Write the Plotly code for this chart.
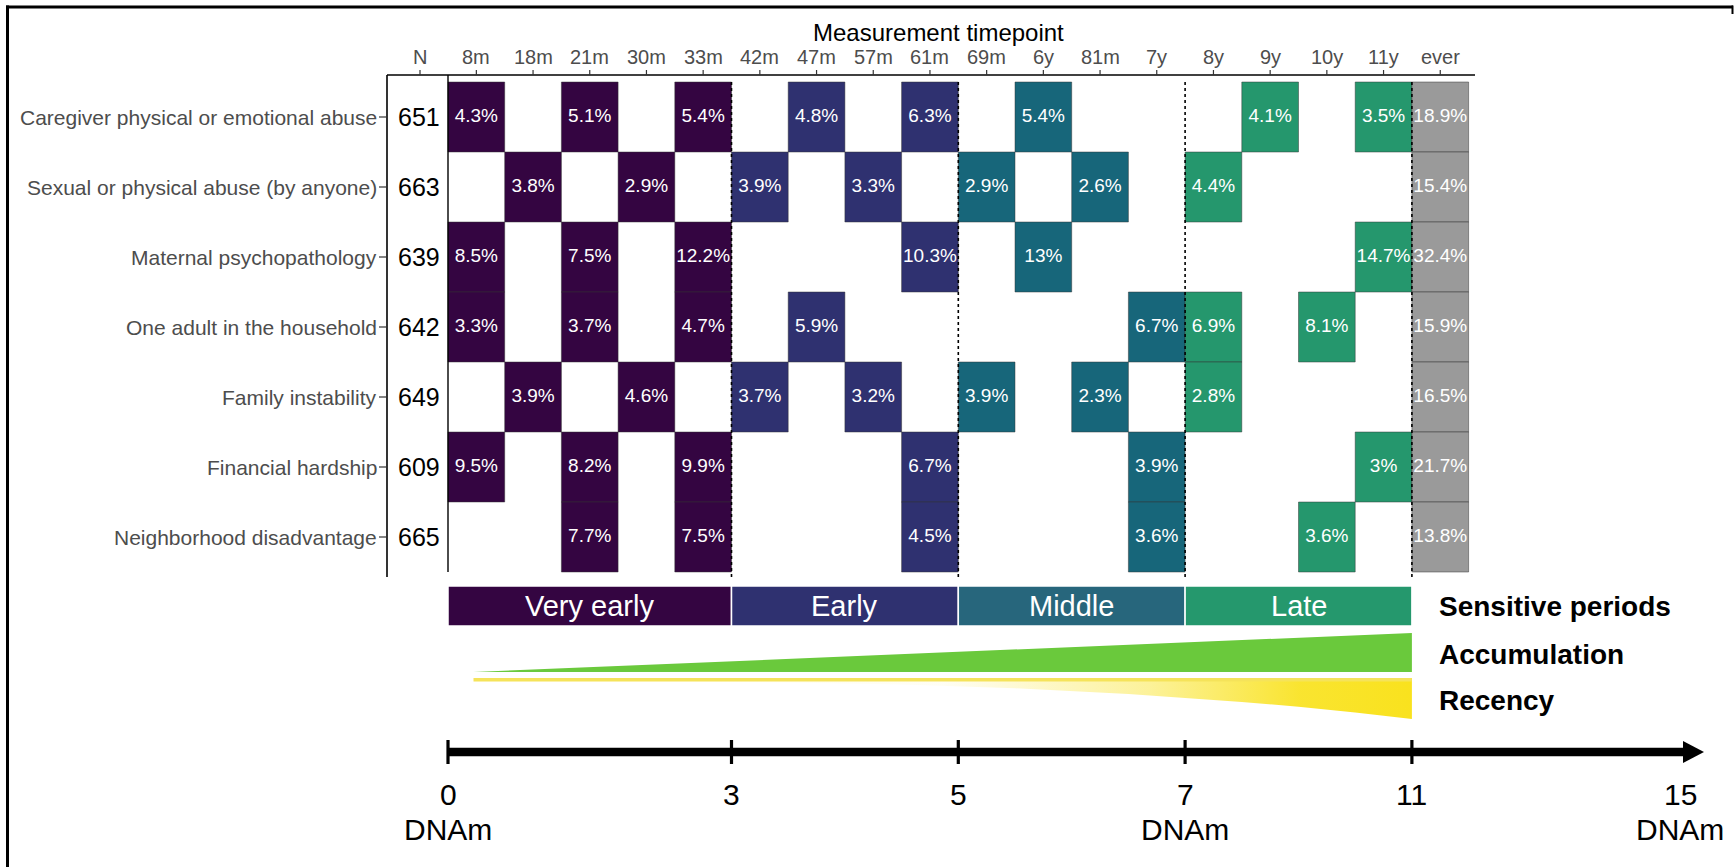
import plotly.graph_objects as go

# ---------------- data ----------------
timepoints = ["8m", "18m", "21m", "30m", "33m", "42m", "47m", "57m", "61m",
              "69m", "6y", "81m", "7y", "8y", "9y", "10y", "11y", "ever"]
period_of_tp = (["Very early"] * 5 + ["Early"] * 4 + ["Middle"] * 4 +
                ["Late"] * 4 + ["Ever"])
adversities = ["Caregiver physical or emotional abuse",
               "Sexual or physical abuse (by anyone)",
               "Maternal psychopathology",
               "One adult in the household",
               "Family instability",
               "Financial hardship",
               "Neighborhood disadvantage"]
n_values = [651, 663, 639, 642, 649, 609, 665]

caregiver_abuse = [4.3, None, 5.1, None, 5.4, None, 4.8, None, 6.3, None, 5.4, None, None, None, 4.1, None, 3.5, 18.9]
sexual_physical = [None, 3.8, None, 2.9, None, 3.9, None, 3.3, None, 2.9, None, 2.6, None, 4.4, None, None, None, 15.4]
maternal_psych = [8.5, None, 7.5, None, 12.2, None, None, None, 10.3, None, 13, None, None, None, None, None, 14.7, 32.4]
one_adult = [3.3, None, 3.7, None, 4.7, None, 5.9, None, None, None, None, None, 6.7, 6.9, None, 8.1, None, 15.9]
family_instab = [None, 3.9, None, 4.6, None, 3.7, None, 3.2, None, 3.9, None, 2.3, None, 2.8, None, None, None, 16.5]
financial = [9.5, None, 8.2, None, 9.9, None, None, None, 6.7, None, None, None, 3.9, None, None, None, 3, 21.7]
neighborhood = [None, None, 7.7, None, 7.5, None, None, None, 4.5, None, None, None, 3.6, None, None, 3.6, None, 13.8]
rows = [caregiver_abuse, sexual_physical, maternal_psych, one_adult,
        family_instab, financial, neighborhood]

period_names = ["Very early", "Early", "Middle", "Late"]
period_first_col = [0, 5, 9, 13]
period_last_col = [4, 8, 12, 16]

timeline_ages = ["0", "3", "5", "7", "11", "15"]
timeline_cols = [0, 5, 9, 13, 17, 21.73]
dnam_ages = ["0", "7", "15"]

# schematic shapes (column units / depth in px)
recency_cols = [0.45, 4, 6, 8, 10, 12, 14, 15, 16, 17]
recency_depth = [3.5, 3.5, 4.4, 6.6, 10.3, 15.9, 23.9, 28.8, 34.5, 41]

# ---------------- layout helpers ----------------
FONT = "Liberation Sans, Arial, Helvetica, sans-serif"
W, H = 1734, 867
X0_PX, COL_PX = 448.0, 56.7
Y0_PX, ROW_PX = 82.0, 70.0


def u(px):
    return (px - X0_PX) / COL_PX


def v(py):
    return (py - Y0_PX) / ROW_PX


cell_colors = {"Very early": "#340541", "Early": "#2f3170", "Middle": "#17667a",
               "Late": "#25976d", "Ever": "#9a9a9a"}
bar_colors = {"Very early": "#340541", "Early": "#2f3170", "Middle": "#27667c",
              "Late": "#25986d"}

fig = go.Figure()
shapes = []
annotations = []

# heatmap cells
tx, ty, tt = [], [], []
for r, row in enumerate(rows):
    for c, val in enumerate(row):
        if val is None:
            continue
        per = period_of_tp[c]
        shapes.append(dict(type="rect", xref="x", yref="y", x0=c, x1=c + 1,
                           y0=r, y1=r + 1, fillcolor=cell_colors[per],
                           line=dict(color="rgba(50,50,50,0.6)", width=0.8),
                           layer="below"))
        tx.append(c + 0.5)
        ty.append(r + 0.5)
        tt.append(f"{val:g}%")

fig.add_trace(go.Scatter(x=tx, y=ty, text=tt, mode="text",
                         textfont=dict(family=FONT, size=19, color="white"),
                         hoverinfo="skip"))

n_rows = len(rows)
n_cols = len(timepoints)

# panel lines
top_v = v(75)
bot_v = v(577)
shapes.append(dict(type="line", xref="x", yref="y", x0=u(387), x1=u(1475),
                   y0=top_v, y1=top_v, line=dict(color="black", width=1.6)))
shapes.append(dict(type="line", xref="x", yref="y", x0=u(387), x1=u(387),
                   y0=top_v, y1=bot_v, line=dict(color="black", width=1.6)))
shapes.append(dict(type="line", xref="x", yref="y", x0=0, x1=0,
                   y0=top_v, y1=n_rows, line=dict(color="black", width=1.4)))
for b in [5, 9, 13, 17]:
    shapes.append(dict(type="line", xref="x", yref="y", x0=b, x1=b,
                       y0=0, y1=bot_v, line=dict(color="black", width=1.6, dash="dot")))

# top ticks and labels
n_col_x = u(420)
tick_xs = [n_col_x] + [c + 0.5 for c in range(n_cols)]
tick_labels = ["N"] + timepoints
for x, lab in zip(tick_xs, tick_labels):
    shapes.append(dict(type="line", xref="x", yref="y", x0=x, x1=x,
                       y0=top_v, y1=v(70), line=dict(color="#333333", width=1.2)))
    annotations.append(dict(x=x, y=v(57), xref="x", yref="y", text=lab,
                            showarrow=False, xanchor="center", yanchor="middle",
                            font=dict(family=FONT, size=20, color="#4d4d4d")))
annotations.append(dict(x=u(938), y=v(32), xref="x", yref="y",
                        text="Measurement timepoint", showarrow=False,
                        xanchor="center", yanchor="middle",
                        font=dict(family=FONT, size=24, color="black")))

# row labels, left ticks and N values
for r, (name, n) in enumerate(zip(adversities, n_values)):
    yc = r + 0.5
    shapes.append(dict(type="line", xref="x", yref="y", x0=u(379), x1=u(387),
                       y0=yc, y1=yc, line=dict(color="#333333", width=1.2)))
    annotations.append(dict(x=u(379), y=yc, xref="x", yref="y", text=name,
                            showarrow=False, xanchor="right", yanchor="middle",
                            font=dict(family=FONT, size=21, color="#4d4d4d")))
    annotations.append(dict(x=u(419), y=yc, xref="x", yref="y", text=str(n),
                            showarrow=False, xanchor="center", yanchor="middle",
                            font=dict(family=FONT, size=25, color="black")))

# sensitive period bars
bar_y0, bar_y1 = v(586), v(626)
for name, c0, c1 in zip(period_names, period_first_col, period_last_col):
    shapes.append(dict(type="rect", xref="x", yref="y", x0=c0, x1=c1 + 1,
                       y0=bar_y0, y1=bar_y1, fillcolor=bar_colors[name],
                       line=dict(color="white", width=1.5), layer="below"))
    annotations.append(dict(x=(c0 + c1 + 1) / 2, y=(bar_y0 + bar_y1) / 2,
                            xref="x", yref="y", text=name, showarrow=False,
                            xanchor="center", yanchor="middle",
                            font=dict(family=FONT, size=29, color="white")))

# accumulation triangle
acc_top_right = v(633)
acc_bottom = v(672)
fig.add_trace(go.Scatter(x=[recency_cols[0], 17, 17, recency_cols[0]],
                         y=[acc_bottom, acc_top_right, acc_bottom, acc_bottom],
                         fill="toself", fillcolor="#6ac93c", mode="lines",
                         line=dict(width=0, color="#6ac93c"), hoverinfo="skip"))

# recency shape
rec_top_px = 678
rx = recency_cols + recency_cols[::-1] + [recency_cols[0]]
ry = ([v(rec_top_px)] * len(recency_cols) +
      [v(rec_top_px + d) for d in recency_depth[::-1]] + [v(rec_top_px)])
fig.add_trace(go.Scatter(
    x=rx, y=ry, fill="toself", mode="lines", line=dict(width=0),
    fillgradient=dict(type="horizontal",
                      colorscale=[[0.0, "rgba(249,226,30,0.05)"],
                                  [0.5, "rgba(249,226,30,0.05)"],
                                  [0.72, "rgba(249,226,30,0.45)"],
                                  [0.88, "rgba(249,226,30,0.92)"],
                                  [1.0, "rgba(249,226,30,1)"]]),
    hoverinfo="skip"))
fig.add_trace(go.Scatter(x=[recency_cols[0], 17], y=[v(rec_top_px + 1.8)] * 2,
                         mode="lines", line=dict(color="#f5e35a", width=3.5),
                         hoverinfo="skip"))

# right-hand labels
for text, py in [("Sensitive periods", 606), ("Accumulation", 654), ("Recency", 700)]:
    annotations.append(dict(x=u(1437), y=v(py), xref="x", yref="y", text=f"<b>{text}</b>",
                            showarrow=False, xanchor="left", yanchor="middle",
                            font=dict(family=FONT, size=28, color="black")))

# timeline arrow
line_y = v(752)
shapes.append(dict(type="line", xref="x", yref="y", x0=0, x1=u(1686),
                   y0=line_y, y1=line_y, line=dict(color="black", width=8.5)))
shapes.append(dict(type="path", xref="x", yref="y",
                   path=f"M {u(1683)},{v(741)} L {u(1704)},{line_y} L {u(1683)},{v(763)} Z",
                   fillcolor="black", line=dict(color="black", width=0)))
for lab, cx in zip(timeline_ages, timeline_cols):
    if lab != "15":
        shapes.append(dict(type="line", xref="x", yref="y", x0=cx, x1=cx,
                           y0=v(740), y1=v(764), line=dict(color="black", width=3.2)))
    annotations.append(dict(x=cx, y=v(794), xref="x", yref="y", text=lab,
                            showarrow=False, xanchor="center", yanchor="middle",
                            font=dict(family=FONT, size=30, color="black")))
    if lab in dnam_ages:
        annotations.append(dict(x=cx, y=v(829), xref="x", yref="y", text="DNAm",
                                showarrow=False, xanchor="center", yanchor="middle",
                                font=dict(family=FONT, size=30, color="black")))

# outer frame
shapes.append(dict(type="line", xref="paper", yref="paper", x0=7.5 / W, x1=7.5 / W,
                   y0=0, y1=1 - 5.5 / H, line=dict(color="black", width=3)))
shapes.append(dict(type="line", xref="paper", yref="paper", x0=6 / W, x1=1733 / W,
                   y0=1 - 7 / H, y1=1 - 7 / H, line=dict(color="black", width=3)))
shapes.append(dict(type="line", xref="paper", yref="paper", x0=1732.5 / W, x1=1732.5 / W,
                   y0=1 - 14 / H, y1=1 - 5.5 / H, line=dict(color="black", width=2)))

fig.update_layout(
    width=W, height=H, margin=dict(l=0, r=0, t=0, b=0, autoexpand=False),
    paper_bgcolor="white", plot_bgcolor="white", showlegend=False,
    xaxis=dict(range=[u(0), u(W)], visible=False, fixedrange=True),
    yaxis=dict(range=[v(H), v(0)], visible=False, fixedrange=True),
    shapes=shapes, annotations=annotations,
)

fig.write_html("out.html", config={"displayModeBar": False},
               post_script="document.body.style.margin='0px';"
                           "document.documentElement.style.overflow='hidden';")
